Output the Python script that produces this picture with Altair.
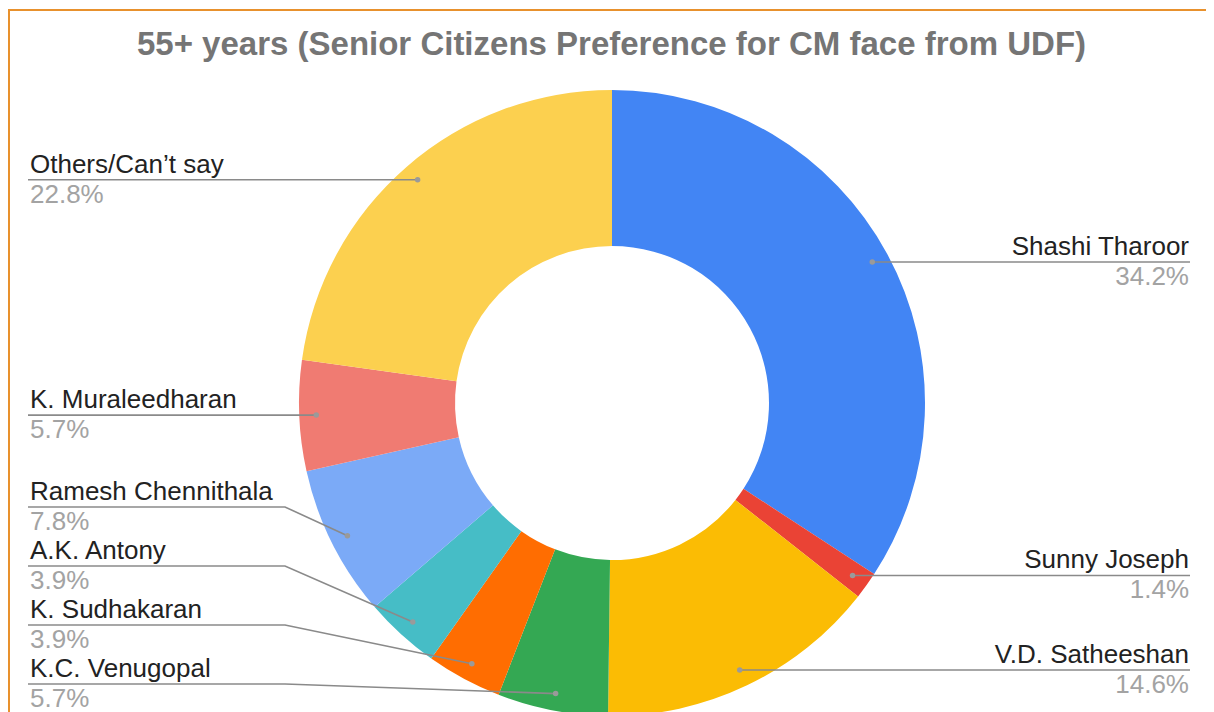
import math
import altair as alt
import pandas as pd

# ---------------- data ----------------
title_text = "55+ years (Senior Citizens Preference for CM face from UDF)"
names = ["Shashi Tharoor", "Sunny Joseph", "V.D. Satheeshan", "K.C. Venugopal",
         "K. Sudhakaran", "A.K. Antony", "Ramesh Chennithala", "K. Muraleedharan",
         "Others/Can’t say"]
values = [34.2, 1.4, 14.6, 5.7, 3.9, 3.9, 7.8, 5.7, 22.8]
colors = ["#4285F4", "#EA4335", "#FBBC04", "#34A853", "#FF6D01",
          "#46BDC6", "#7BAAF7", "#F07B72", "#FCD04F"]

# ---------------- geometry / styling ----------------
W, H = 1198, 704
CX, CY = 604, 395
R_OUT, R_IN, R_DOT = 313, 157, 296
LEFT_X, LEFT_BEND = 20, 277
RIGHT_X, RIGHT_BEND = 1182, 925
BOTTOM, GAP = 676, 59
FONT = "Liberation Sans"

total = sum(values)
cum = 0.0
pts = []
for i, (n, v) in enumerate(zip(names, values)):
    mid = (cum + v / 2) / total
    a = 2 * math.pi * mid
    pts.append({"name": n, "value": v, "idx": i,
                "dx": CX + R_DOT * math.sin(a), "dy": CY - R_DOT * math.cos(a),
                "side": "right" if mid < 0.5 else "left"})
    cum += v

# label layout: stack labels upward from the bottom limit
for side in ("left", "right"):
    items = sorted([p for p in pts if p["side"] == side], key=lambda p: -p["dy"])
    prev = BOTTOM + GAP
    for p in items:
        p["ly"] = min(p["dy"], prev - GAP)
        prev = p["ly"]

line_rows = []
text_rows = []
for p in pts:
    if p["side"] == "left":
        ex, bx, tx = LEFT_X, LEFT_BEND, LEFT_X + 2
    else:
        ex, bx, tx = RIGHT_X, RIGHT_BEND, RIGHT_X - 1
    line_rows += [{"name": p["name"], "seq": 0, "x": ex, "y": p["ly"]},
                  {"name": p["name"], "seq": 1, "x": bx, "y": p["ly"]},
                  {"name": p["name"], "seq": 2, "x": p["dx"], "y": p["dy"]}]
    text_rows.append({"name": p["name"], "pct": f"{p['value']:.1f}%", "side": p["side"],
                      "tx": tx, "ny": p["ly"] - 7, "py": p["ly"] + 23})

df = pd.DataFrame({"name": names, "value": values, "idx": list(range(len(names)))})
pdf = pd.DataFrame(pts)
ldf = pd.DataFrame(line_rows)
tdf = pd.DataFrame(text_rows)

xs = alt.Scale(domain=[0, W], nice=False, zero=False)
ys = alt.Scale(domain=[0, H], nice=False, zero=False, reverse=True)

arcs = alt.Chart(df).mark_arc(outerRadius=R_OUT, innerRadius=R_IN).encode(
    theta=alt.Theta("value:Q", stack=True),
    order=alt.Order("idx:Q"),
    color=alt.Color("name:N", scale=alt.Scale(domain=names, range=colors), legend=None),
    x=alt.value(CX), y=alt.value(CY),
)

lines = alt.Chart(ldf).mark_line(color="#8a8a8a", strokeWidth=1.6).encode(
    x=alt.X("x:Q", scale=xs, axis=None),
    y=alt.Y("y:Q", scale=ys, axis=None),
    detail="name:N",
    order="seq:Q",
)

dots = alt.Chart(pdf).mark_circle(size=30, color="#9a9a9a", opacity=1).encode(
    x=alt.X("dx:Q", scale=xs, axis=None),
    y=alt.Y("dy:Q", scale=ys, axis=None),
)

def label_layers(side, align):
    base = alt.Chart(tdf).transform_filter(alt.datum.side == side)
    nm = base.mark_text(align=align, baseline="alphabetic", font=FONT, fontSize=26,
                        color="#222222").encode(
        x=alt.X("tx:Q", scale=xs, axis=None),
        y=alt.Y("ny:Q", scale=ys, axis=None),
        text="name:N")
    pc = base.mark_text(align=align, baseline="alphabetic", font=FONT, fontSize=26,
                        color="#a3a3a3").encode(
        x=alt.X("tx:Q", scale=xs, axis=None),
        y=alt.Y("py:Q", scale=ys, axis=None),
        text="pct:N")
    return [nm, pc]

title = alt.Chart(pd.DataFrame({"t": [title_text]})).mark_text(
    align="center", baseline="alphabetic", font=FONT, fontSize=33, fontWeight="bold",
    color="#757575").encode(text="t:N", x=alt.value(603.5), y=alt.value(47))

one = pd.DataFrame({"a": [0]})
border_top = alt.Chart(one).mark_rule(color="#E8912D", strokeWidth=2).encode(
    x=alt.value(0), x2=alt.value(W), y=alt.value(2))
border_left = alt.Chart(one).mark_rule(color="#E8912D", strokeWidth=2).encode(
    x=alt.value(1), y=alt.value(2), y2=alt.value(H))

chart = alt.layer(
    arcs, lines, dots, *label_layers("left", "left"), *label_layers("right", "right"),
    title, border_top, border_left,
).properties(
    width=W, height=H, padding=0, autosize="none", background="white"
).configure_view(stroke=None)

chart.save("out.html", embed_options={"renderer": "svg", "actions": False})
